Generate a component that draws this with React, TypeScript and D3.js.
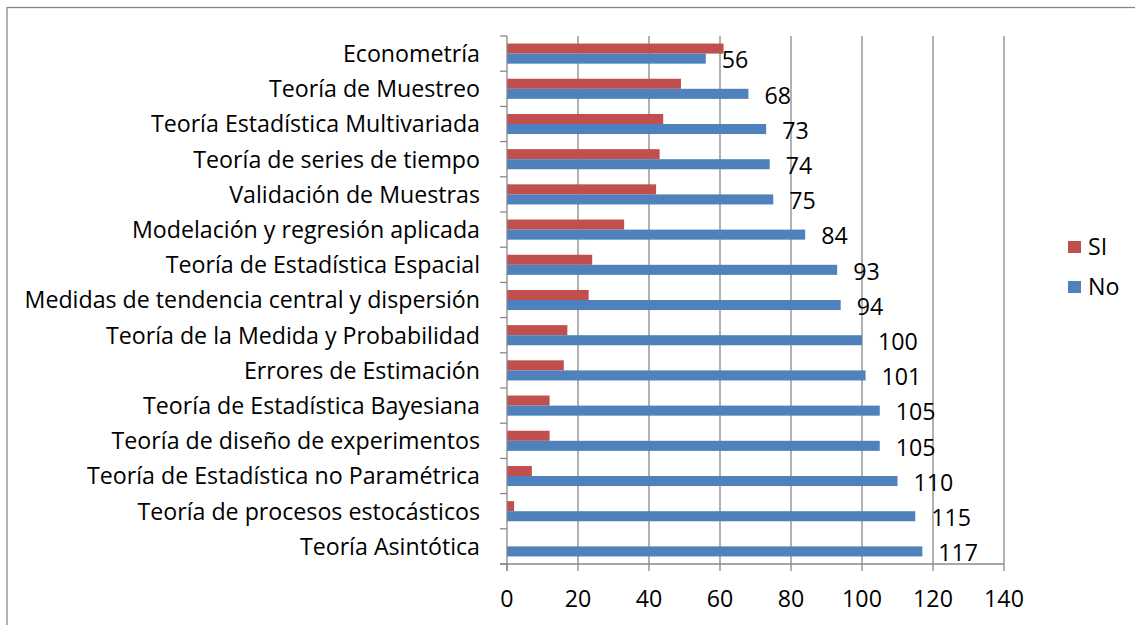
import React from "react";
import * as d3 from "d3";

const categories = [
  "Econometría",
  "Teoría de Muestreo",
  "Teoría Estadística Multivariada",
  "Teoría de series de tiempo",
  "Validación de Muestras",
  "Modelación y regresión aplicada",
  "Teoría de Estadística Espacial",
  "Medidas de tendencia central y dispersión",
  "Teoría de la Medida y Probabilidad",
  "Errores de Estimación",
  "Teoría de Estadística Bayesiana",
  "Teoría de diseño de experimentos",
  "Teoría de Estadística no Paramétrica",
  "Teoría de procesos estocásticos",
  "Teoría Asintótica",
];
const siValues = [61, 49, 44, 43, 42, 33, 24, 23, 17, 16, 12, 12, 7, 2, 0];
const noValues = [56, 68, 73, 74, 75, 84, 93, 94, 100, 101, 105, 105, 110, 115, 117];
const seriesNames = ["SI", "No"];
const xTicks = [0, 20, 40, 60, 80, 100, 120, 140];

const colors: Record<string, string> = { SI: "#C0504D", No: "#4F81BD" };
const FONT = "'Open Sans', sans-serif";
const FS = 23.2;
const gridColor = "#888888";

export default function App() {
  const W = 1135, H = 625;
  const left = 507, right = 1004, top = 36, bottom = 564;
  const x = d3.scaleLinear().domain([0, 140]).range([left, right]);
  const y = d3.scaleBand<string>().domain(categories).range([top, bottom]).padding(0);
  const inner = d3
    .scaleBand<string>()
    .domain(seriesNames)
    .range([0, y.bandwidth()])
    .paddingInner(0)
    .paddingOuter(0.75);
  const bounds = d3.range(categories.length + 1).map((i) => top + i * y.bandwidth());
  const seriesData: Record<string, number[]> = { SI: siValues, No: noValues };

  return (
    <svg
      width={W}
      height={H}
      style={{ position: "absolute", left: 0, top: 0, background: "#fff" }}
      fontFamily={FONT}
    >
      <rect x={7} y={7.5} width={W + 20} height={H + 20} fill="#fff" stroke={gridColor} strokeWidth={1.3} />
      {xTicks.slice(1).map((t) => (
        <line key={"g" + t} x1={x(t)} x2={x(t)} y1={top} y2={bottom} stroke={gridColor} strokeWidth={1.3} />
      ))}
      {categories.map((c, i) =>
        seriesNames.map((s) => {
          const v = seriesData[s][i];
          const by = (y(c) as number) + (inner(s) as number);
          return (
            <rect
              key={c + s}
              x={x(0)}
              y={by}
              width={x(v) - x(0)}
              height={inner.bandwidth()}
              fill={colors[s]}
            />
          );
        })
      )}
      {categories.map((c, i) => {
        const by = (y(c) as number) + (inner("No") as number) + inner.bandwidth() / 2;
        return (
          <text key={"l" + c} x={x(noValues[i]) + 16} y={by + 1.5 + FS * 0.36} fontSize={FS} fill="#000">
            {noValues[i]}
          </text>
        );
      })}
      <line x1={left} x2={left} y1={top} y2={bottom + 7} stroke={gridColor} strokeWidth={1.3} />
      <line x1={left - 7} x2={right} y1={bottom} y2={bottom} stroke={gridColor} strokeWidth={1.3} />
      {bounds.map((b, i) => (
        <line key={"yt" + i} x1={left - 7} x2={left} y1={b} y2={b} stroke={gridColor} strokeWidth={1.3} />
      ))}
      {xTicks.map((t) => (
        <line key={"xt" + t} x1={x(t)} x2={x(t)} y1={bottom} y2={bottom + 7} stroke={gridColor} strokeWidth={1.3} />
      ))}
      {xTicks.map((t) => (
        <text key={"xl" + t} x={x(t)} y={bottom + 43} fontSize={FS} textAnchor="middle" fill="#000">
          {t}
        </text>
      ))}
      {categories.map((c) => (
        <text
          key={"cl" + c}
          x={480}
          y={(y(c) as number) + y.bandwidth() / 2 + FS * 0.36}
          fontSize={FS}
          textAnchor="end"
          fill="#000"
        >
          {c}
        </text>
      ))}
      {seriesNames.map((s, i) => (
        <g key={"lg" + s} transform={`translate(1068, ${241 + i * 40})`}>
          <rect x={0} y={0} width={13} height={12} fill={colors[s]} />
          <text x={20} y={6 + FS * 0.36} fontSize={FS} fill="#000">
            {s}
          </text>
        </g>
      ))}
    </svg>
  );
}
